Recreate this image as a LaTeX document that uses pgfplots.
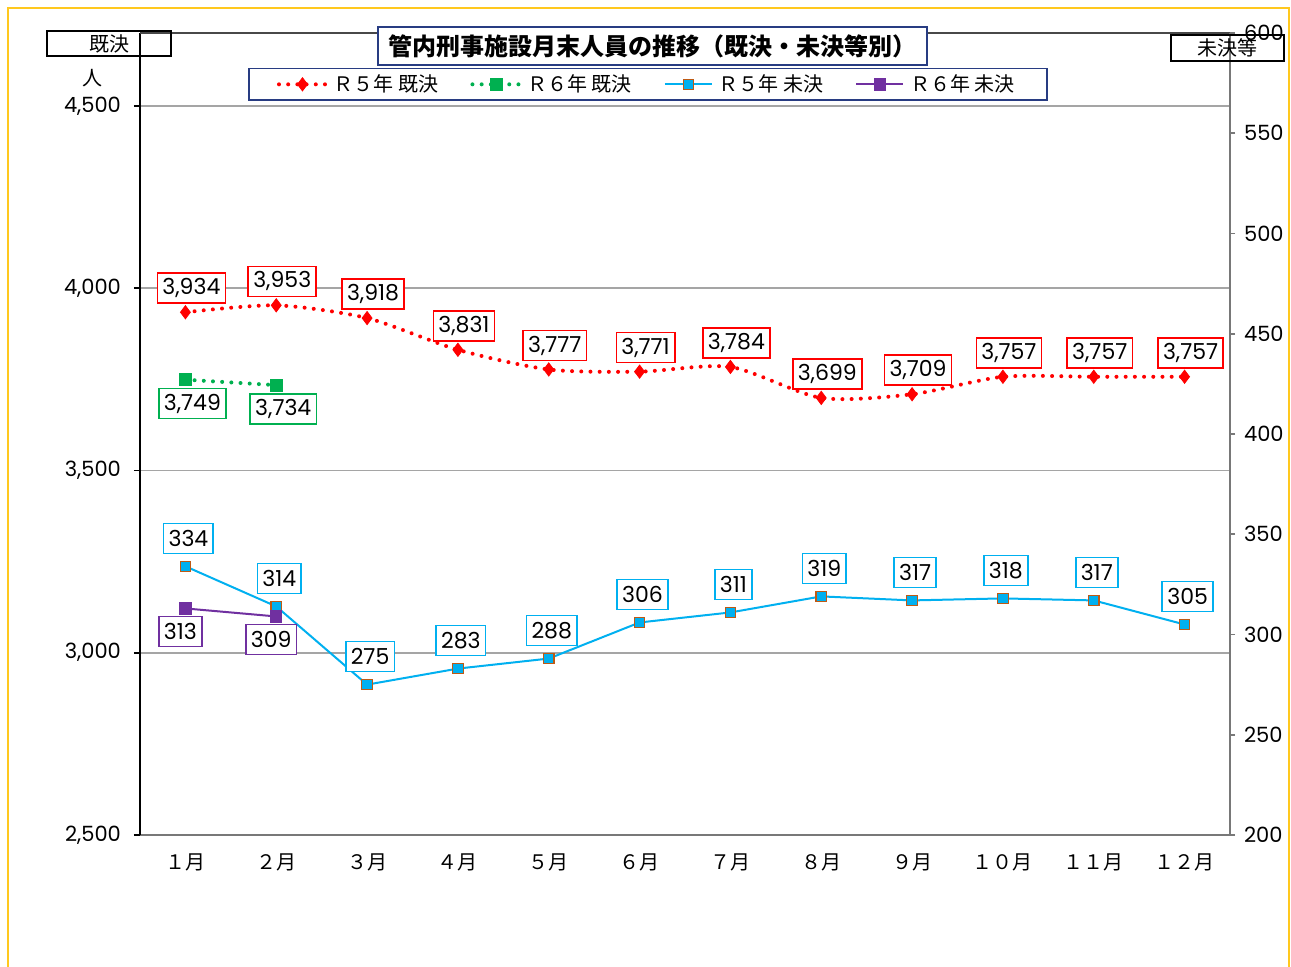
\documentclass[border=0pt]{standalone}
\usepackage{fontspec}
\setmainfont{Noto Sans CJK JP}
\newfontfamily\numfont{Poppins}
\usepackage{pgfplots}
\pgfplotsset{compat=1.18}
\definecolor{ired}{RGB}{255,0,0}
\definecolor{igreen}{RGB}{0,176,80}
\definecolor{icyan}{RGB}{0,176,240}
\definecolor{ibrown}{RGB}{190,90,20}
\definecolor{ipurple}{RGB}{112,48,160}
\definecolor{inavy}{RGB}{40,60,130}
\definecolor{iyellow}{RGB}{255,200,30}
\definecolor{igrid}{RGB}{165,165,165}
\definecolor{iaxis}{RGB}{120,120,120}
\tikzset{
  lbl/.style={solid, draw=#1, line width=0.8pt, fill=white, text=black,
    font=\numfont\fontsize{11}{13}\selectfont, inner xsep=2.5pt, inner ysep=0pt,
    minimum height=15pt, anchor=center},
  r5k/.style={ired, line width=2pt, line cap=round, dash pattern=on 0pt off 4.6pt,
    mark=diamond*, mark size=3.3pt, mark options={solid, fill=ired, draw=ired, line width=0.4pt}},
  r6k/.style={igreen, line width=2pt, line cap=round, dash pattern=on 0pt off 4.6pt,
    mark=square*, mark size=3pt, mark options={solid, fill=igreen, draw=igreen, line width=0.4pt}},
  r5m/.style={icyan, line width=1pt, solid,
    mark=square*, mark size=2.6pt, mark options={solid, fill=icyan, draw=ibrown, line width=0.6pt}},
  r6m/.style={ipurple, line width=1pt, solid,
    mark=square*, mark size=2.8pt, mark options={solid, fill=ipurple, draw=ipurple, line width=0.4pt}},
}
\pgfplotsset{legend image code/.code={\draw[mark repeat=2,mark phase=2,#1] plot coordinates {(0pt,0pt) (11.75pt,0pt) (23.5pt,0pt)};}}
\begin{document}
\begin{tikzpicture}[x=1pt,y=1pt]
\useasboundingbox (0,0) rectangle (645.5,483);
\fill[white] (0,0) rectangle (645.5,483);
\draw[iyellow, line width=1pt] (4,-10) -- (4,479) -- (644.5,479) -- (644.5,-10);
\begin{axis}[
  at={(70pt,65.5pt)}, anchor=south west, scale only axis,
  width=545pt, height=401pt,
  xmin=0.5, xmax=12.5, ymin=2500, ymax=4700,
  axis lines*=left,
  x axis line style={draw=iaxis, line width=1pt, -},
  y axis line style={draw=black, line width=1pt, -},
  xtick={1,...,12},
  xticklabels={１月,２月,３月,４月,５月,６月,７月,８月,９月,１０月,１１月,１２月},
  x tick style={draw=none},
  xticklabel style={font=\fontsize{10}{12}\selectfont, yshift=-3pt},
  ytick={2500,3000,3500,4000,4500},
  y tick style={black, line width=0.8pt},
  tick align=outside, major tick length=3pt,
  yticklabel style={font=\numfont\fontsize{10.5}{12}\selectfont, xshift=-3pt},
  /pgf/number format/assume math mode=true,
  ymajorgrids, grid style={igrid, line width=0.8pt},
  clip=false,
]
\draw[iaxis!60!black, line width=0.8pt] (rel axis cs:0,1) -- (rel axis cs:1,1);
\addplot[r5k, smooth, tension=0.45,
  nodes near coords, every node near coord/.append style={lbl=ired, xshift=3pt, yshift=12pt}]
  coordinates {(1,3934) (2,3953) (3,3918) (4,3831) (5,3777) (6,3771) (7,3784) (8,3699) (9,3709) (10,3757) (11,3757) (12,3757)};
\addplot[r6k,
  nodes near coords, every node near coord/.append style={lbl=igreen, xshift=3.5pt, yshift=-12pt}]
  coordinates {(1,3749) (2,3734)};
\end{axis}
\begin{axis}[
  at={(70pt,65.5pt)}, anchor=south west, scale only axis,
  width=545pt, height=401pt,
  xmin=0.5, xmax=12.5, ymin=200, ymax=600,
  axis x line=none, axis y line*=right,
  y axis line style={draw=iaxis, line width=1pt, -},
  ytick={200,250,...,600},
  y tick style={iaxis, line width=0.8pt},
  tick align=outside, major tick length=2.5pt,
  yticklabel style={font=\numfont\fontsize{10.5}{12}\selectfont, xshift=1pt},
  /pgf/number format/assume math mode=true,
  clip=false,
  legend columns=4,
  legend style={at={(axis description cs:0.466,0.936)}, anchor=center, draw=inavy, line width=0.8pt,
    font=\fontsize{10}{12}\selectfont, inner xsep=14pt, inner ysep=1pt,
    /tikz/every odd column/.append style={column sep=1pt},
    /tikz/every even column/.append style={column sep=14pt}},
]
\addlegendimage{r5k}
\addlegendentry{Ｒ５年 既決}
\addlegendimage{r6k}
\addlegendentry{Ｒ６年 既決}
\addplot[r5m,
  nodes near coords, every node near coord/.append style={lbl=icyan, xshift=1.5pt, yshift=14pt}]
  coordinates {(1,334) (2,314) (3,275) (4,283) (5,288) (6,306) (7,311) (8,319) (9,317) (10,318) (11,317) (12,305)};
\addlegendentry{Ｒ５年 未決}
\addplot[r6m,
  nodes near coords, every node near coord/.append style={lbl=ipurple, xshift=-2.5pt, yshift=-11.5pt}]
  coordinates {(1,313) (2,309)};
\addlegendentry{Ｒ６年 未決}
\end{axis}
\node[draw=inavy, line width=0.8pt, fill=white, minimum width=274.5pt, minimum height=19pt, inner sep=0pt,
  font=\bfseries\fontsize{12}{14}\selectfont] at (326.25,460) {管内刑事施設月末人員の推移（既決・未決等別）};
\node[draw=black, line width=0.7pt, minimum width=62pt, minimum height=12.5pt, inner sep=0pt,
  font=\fontsize{10}{12}\selectfont] at (54.5,461.25) {既決};
\node[draw=black, line width=0.7pt, minimum width=56.5pt, minimum height=13pt, inner sep=0pt,
  font=\fontsize{10}{12}\selectfont] at (613.75,459) {未決等};
\node[font=\fontsize{10}{12}\selectfont] at (46.5,444) {人};
\end{tikzpicture}
\end{document}
